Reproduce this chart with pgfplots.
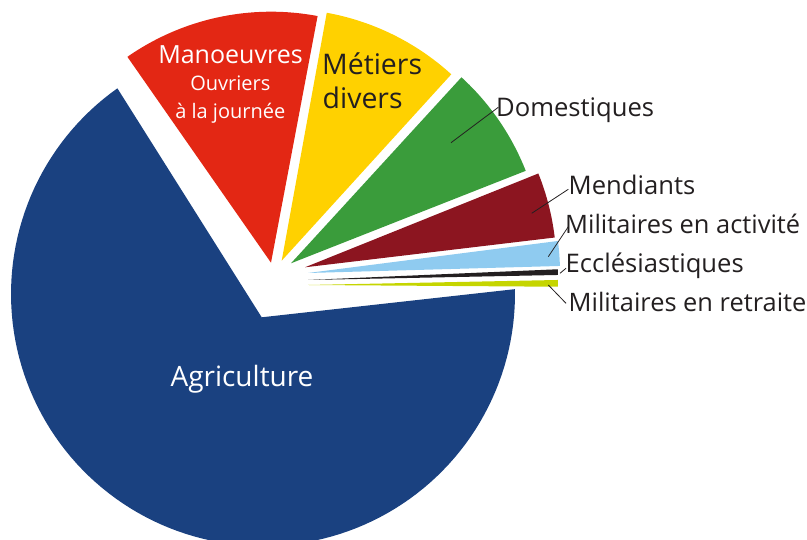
\documentclass[border=0pt]{standalone}
\usepackage{pgfplots}
\pgfplotsset{compat=1.18}
\usepackage{fontspec}
\setmainfont{Open Sans}
\definecolor{cblue}{HTML}{1A4180}
\definecolor{cred}{HTML}{E32714}
\definecolor{cyel}{HTML}{FFD100}
\definecolor{cgreen}{HTML}{3A9C3B}
\definecolor{cdred}{HTML}{8C1520}
\definecolor{clblue}{HTML}{8FCBF0}
\definecolor{cblack}{HTML}{231F20}
\definecolor{clime}{HTML}{C5D500}
\definecolor{ctext}{HTML}{231F20}
\begin{document}
\begin{tikzpicture}
\begin{axis}[x=1pt,y=1pt,xmin=0,xmax=807,ymin=0,ymax=540,scale only axis,hide axis,clip=true,samples=120,variable=\t]
% slices: angular extent (degrees)
% Agriculture
\addplot[fill=cblue,draw=none,domain=-234.7:1.1] ({263+252*cos(\t)},{246+252*sin(\t)}) -- (axis cs:261.7,222.7) -- cycle;
% Manoeuvres
\addplot[fill=cred,draw=none,domain=79.3:124.9] ({271+251*cos(\t)},{277.3+251*sin(\t)}) -- (axis cs:271,277.3) -- cycle;
% Metiers divers
\addplot[fill=cyel,draw=none,domain=47.7:79.7] ({281.7+252*cos(\t)},{279.3+252*sin(\t)}) -- (axis cs:281.7,279.3) -- cycle;
% Domestiques
\addplot[fill=cgreen,draw=none,domain=21.5:47.5] ({291+252.3*cos(\t)},{276.7+252.3*sin(\t)}) -- (axis cs:291,276.7) -- cycle;
% Mendiants
\addplot[fill=cdred,draw=none,domain=6.8:21.9] ({305+251.5*cos(\t)},{272.7+251.5*sin(\t)}) -- (axis cs:305,272.7) -- cycle;
% Militaires en activite
\addplot[fill=clblue,draw=none,domain=1.6:7.3] ({308+252*cos(\t)},{267+252*sin(\t)}) -- (axis cs:308,267) -- cycle;
% Ecclesiastiques
\addplot[fill=cblack,draw=none,domain=1.15:2.46,samples=10] ({308+250*cos(\t)},{260+250*sin(\t)}) -- (axis cs:308,260) -- cycle;
% Militaires en retraite
\addplot[fill=clime,draw=none,domain=-0.4:1.15,samples=10] ({308+250*cos(\t)},{255+250*sin(\t)}) -- (axis cs:308,255) -- cycle;
% leader lines
\addplot[ctext,line width=0.8pt] coordinates {(451,397.3) (498.3,432.7)};
\addplot[ctext,line width=0.8pt] coordinates {(531.7,326.7) (568.3,350.7)};
\addplot[ctext,line width=0.8pt] coordinates {(548.3,283.3) (568.3,313.3)};
\addplot[ctext,line width=0.8pt] coordinates {(560,266.7) (566,271.7)};
\addplot[ctext,line width=0.8pt] coordinates {(548.3,255) (566,236.7)};
% labels
\node[anchor=base west,text=ctext,inner sep=0,font=\fontsize{25.6}{30}\selectfont] at (axis cs:496,423.3) {Domestiques};
\node[anchor=base west,text=ctext,inner sep=0,font=\fontsize{25.6}{30}\selectfont] at (axis cs:568.5,345) {Mendiants};
\node[anchor=base west,text=ctext,inner sep=0,font=\fontsize{25.4}{30}\selectfont] at (axis cs:565,306) {Militaires en activité};
\node[anchor=base west,text=ctext,inner sep=0,font=\fontsize{25.6}{30}\selectfont] at (axis cs:565.5,267.3) {Ecclésiastiques};
\node[anchor=base west,text=ctext,inner sep=0,font=\fontsize{25.4}{30}\selectfont] at (axis cs:568.5,228.3) {Militaires en retraite};
\node[anchor=base west,text=ctext,inner sep=0,font=\fontsize{28.4}{33}\selectfont] at (axis cs:322,465) {Métiers};
\node[anchor=base west,text=ctext,inner sep=0,font=\fontsize{28.4}{33}\selectfont] at (axis cs:322.5,431.7) {divers};
\node[anchor=base,text=white,inner sep=0,font=\fontsize{25}{30}\selectfont] at (axis cs:230.5,476.7) {Manoeuvres};
\node[anchor=base,text=white,inner sep=0,font=\fontsize{20}{24}\selectfont] at (axis cs:230.3,449.3) {Ouvriers};
\node[anchor=base,text=white,inner sep=0,font=\fontsize{20}{24}\selectfont] at (axis cs:230.3,421.7) {à la journée};
\node[anchor=base,text=white,inner sep=0,font=\fontsize{28}{33}\selectfont] at (axis cs:242,153.3) {Agriculture};
\end{axis}
\pgfresetboundingbox
\path[use as bounding box] (0,0) rectangle (807pt,540pt);
\end{tikzpicture}
\end{document}
